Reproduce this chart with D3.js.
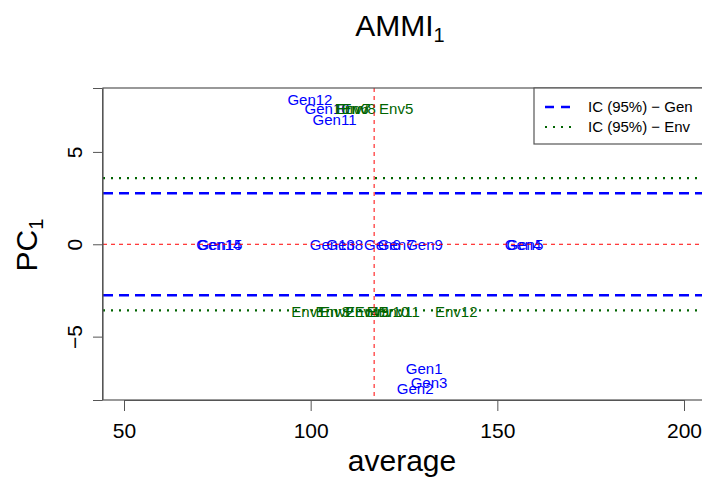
<!DOCTYPE html>
<html>
<head>
<meta charset="utf-8">
<script src="https://cdn.jsdelivr.net/npm/d3@7"></script>
<style>
  body { margin: 0; background: #fff; }
  svg { display: block; font-family: "Liberation Sans", Arial, sans-serif; }
</style>
</head>
<body>
<svg id="chart" width="702" height="480"></svg>
<script>
// genotypes: average and PC1 score
const genNames = ['Gen1', 'Gen2', 'Gen3', 'Gen4', 'Gen5', 'Gen6', 'Gen7', 'Gen8',
  'Gen9', 'Gen10', 'Gen11', 'Gen12', 'Gen13', 'Gen14', 'Gen15'];
const genAvg = [130.4, 128.0, 131.7, 156.9, 157.4, 119.2, 122.9, 109.1,
  130.5, 104.4, 106.4, 99.8, 105.8, 75.4, 75.7];
const genPC1 = [-6.75, -7.83, -7.47, 0, 0, 0, 0, 0,
  0, 7.33, 6.73, 7.81, 0, 0, 0];

// environments: average and PC1 score
const envNames = ['Env1', 'Env2', 'Env3', 'Env4', 'Env5', 'Env6', 'Env7', 'Env8',
  'Env9', 'Env10', 'Env11', 'Env12'];
const envAvg = [99.4, 107.1, 105.9, 113.8, 122.9, 111.0, 111.5, 112.9,
  116.4, 120.7, 123.7, 139.0];
const envPC1 = [-3.65, -3.65, -3.65, -3.65, 7.33, 7.33, 7.33, 7.33,
  -3.65, -3.65, -3.65, -3.65];

const grandMean = 117;
const icGen = 2.76;
const icEnv = 3.58;

const xTicks = [50, 100, 150, 200];
const yTicks = [-5, 0, 5];

const svg = d3.select('#chart');

const x = d3.scaleLinear().domain([50, 200]).range([124, 684]);
const y = d3.scaleLinear().domain([-8.43, 8.46]).range([400, 88]);

const plotLeft = 103, plotTop = 88, plotRight = 712, plotBottom = 400;

svg.append('clipPath').attr('id', 'clip')
  .append('rect')
  .attr('x', plotLeft).attr('y', plotTop)
  .attr('width', plotRight - plotLeft).attr('height', plotBottom - plotTop);

const plot = svg.append('g').attr('clip-path', 'url(#clip)');

// labels
const gens = genNames.map((n, i) => ({ name: n, avg: genAvg[i], pc: genPC1[i] }));
const envs = envNames.map((n, i) => ({ name: n, avg: envAvg[i], pc: envPC1[i] }));

plot.selectAll('.gen')
  .data(gens)
  .enter()
  .append('text')
  .attr('class', 'gen')
  .attr('x', d => x(d.avg))
  .attr('y', d => y(d.pc))
  .attr('dy', '0.36em')
  .attr('text-anchor', 'middle')
  .attr('font-size', 15)
  .attr('fill', '#0000ff')
  .text(d => d.name);

plot.selectAll('.env')
  .data(envs)
  .enter()
  .append('text')
  .attr('class', 'env')
  .attr('x', d => x(d.avg))
  .attr('y', d => y(d.pc))
  .attr('dy', '0.36em')
  .attr('text-anchor', 'middle')
  .attr('font-size', 15)
  .attr('fill', '#006400')
  .text(d => d.name);

// reference lines
plot.append('line')
  .attr('x1', x(grandMean)).attr('x2', x(grandMean))
  .attr('y1', plotTop).attr('y2', plotBottom)
  .attr('stroke', 'red').attr('stroke-dasharray', '4,4');

plot.append('line')
  .attr('x1', plotLeft).attr('x2', plotRight)
  .attr('y1', y(0)).attr('y2', y(0))
  .attr('stroke', 'red').attr('stroke-dasharray', '4,4');

[icGen, -icGen].forEach(v => {
  plot.append('line')
    .attr('x1', plotLeft).attr('x2', plotRight)
    .attr('y1', y(v)).attr('y2', y(v))
    .attr('stroke', '#0000ff').attr('stroke-width', 2.6)
    .attr('stroke-dasharray', '10,6');
});

[icEnv, -icEnv].forEach(v => {
  plot.append('line')
    .attr('x1', plotLeft).attr('x2', plotRight)
    .attr('y1', y(v)).attr('y2', y(v))
    .attr('stroke', '#006400').attr('stroke-width', 2.2)
    .attr('stroke-dasharray', '2,6');
});

// box
svg.append('rect')
  .attr('x', plotLeft).attr('y', plotTop)
  .attr('width', plotRight - plotLeft).attr('height', plotBottom - plotTop)
  .attr('fill', 'none').attr('stroke', '#555').attr('stroke-width', 1.2);

// x axis
const xAxis = svg.append('g')
  .attr('transform', `translate(0,${plotBottom})`)
  .call(d3.axisBottom(x).tickValues(xTicks).tickSize(11).tickPadding(12).tickFormat(d3.format('d')));
xAxis.select('.domain').attr('stroke', '#555');
xAxis.selectAll('.tick line').attr('stroke', '#555');
xAxis.selectAll('.tick text')
  .attr('font-size', 21).attr('font-family', '"Liberation Sans", Arial, sans-serif')
  .attr('fill', '#000');

// y axis
const yAxis = svg.append('g')
  .attr('transform', `translate(${plotLeft - 1},0)`)
  .call(d3.axisLeft(y).tickValues(yTicks).tickSize(9).tickFormat(d => d < 0 ? '\u2212' + Math.abs(d) : d));
yAxis.select('.domain').attr('stroke', '#555');
yAxis.selectAll('.tick line').attr('stroke', '#555');
yAxis.selectAll('.tick text')
  .attr('font-size', 21).attr('font-family', '"Liberation Sans", Arial, sans-serif')
  .attr('fill', '#000')
  .attr('x', null).attr('dy', null)
  .attr('text-anchor', 'middle')
  .attr('transform', 'translate(-20,0) rotate(-90)');

// titles
const title = svg.append('text')
  .attr('x', 400).attr('y', 36)
  .attr('text-anchor', 'middle')
  .attr('font-size', 30);
title.append('tspan').text('AMMI');
title.append('tspan').attr('font-size', 20).attr('dy', 6).text('1');

svg.append('text')
  .attr('x', 402).attr('y', 471)
  .attr('text-anchor', 'middle')
  .attr('font-size', 30)
  .text('average');

const yTitle = svg.append('text')
  .attr('transform', 'translate(37,245) rotate(-90)')
  .attr('text-anchor', 'middle')
  .attr('font-size', 30);
yTitle.append('tspan').text('PC');
yTitle.append('tspan').attr('font-size', 20).attr('dy', 6).text('1');

// legend
const legend = svg.append('g');
legend.append('rect')
  .attr('x', 534).attr('y', plotTop)
  .attr('width', 200).attr('height', 56)
  .attr('fill', '#fff').attr('stroke', '#555').attr('stroke-width', 1.2);

const legendItems = [
  { label: 'IC (95%) \u2212 Gen', color: '#0000ff', dash: '9,7', width: 2.6 },
  { label: 'IC (95%) \u2212 Env', color: '#006400', dash: '2,6', width: 2.2 }
];

legendItems.forEach((d, i) => {
  const yy = 107 + i * 20;
  legend.append('line')
    .attr('x1', 545).attr('x2', 572)
    .attr('y1', yy).attr('y2', yy)
    .attr('stroke', d.color).attr('stroke-width', d.width)
    .attr('stroke-dasharray', d.dash);
  legend.append('text')
    .attr('x', 588).attr('y', yy)
    .attr('dy', '0.36em')
    .attr('font-size', 15)
    .text(d.label);
});
</script>
</body>
</html>
